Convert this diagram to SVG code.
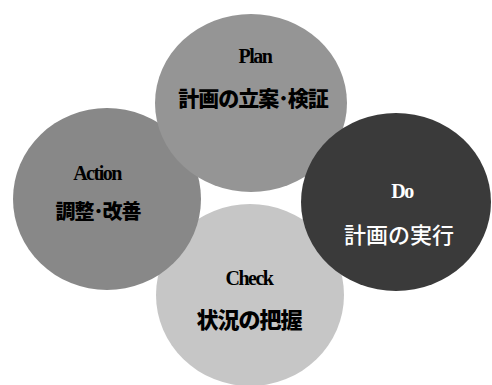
<svg xmlns="http://www.w3.org/2000/svg" width="492" height="385" viewBox="0 0 492 385">
<style>
.lat{font-family:"Liberation Serif",serif;font-weight:bold;text-anchor:middle;font-size:20px;letter-spacing:-1.5px;}
.jp{font-family:"Noto Sans CJK JP",sans-serif;font-weight:900;text-anchor:middle;letter-spacing:-1px;}
</style>
<rect width="492" height="385" fill="#ffffff"/>
<g id="check">
<ellipse cx="250" cy="295" rx="94" ry="91" fill="#c6c6c6"/>
<text class="lat" x="249" y="285">Check</text>
<text class="jp" x="249" y="328" font-size="22">状況の把握</text>
</g>
<g id="action">
<ellipse cx="107" cy="199" rx="94" ry="91" fill="#888888"/>
<text class="lat" x="97" y="180">Action</text>
<text class="jp" x="98" y="219" font-size="20">調整･改善</text>
</g>
<g id="plan">
<ellipse cx="251" cy="103" rx="96" ry="89" fill="#959595"/>
<text class="lat" x="255" y="63">Plan</text>
<text class="jp" x="253" y="106" font-size="21">計画の立案･検証</text>
</g>
<g id="do">
<ellipse cx="396" cy="202" rx="95" ry="89" fill="#3a3a3a"/>
<text class="lat" x="402" y="198" fill="#ffffff">Do</text>
<text class="jp" x="399" y="243" font-size="22" fill="#ffffff" style="font-weight:500;letter-spacing:0">計画の実行</text>
</g>
<g id="connectors"/>
</svg>
